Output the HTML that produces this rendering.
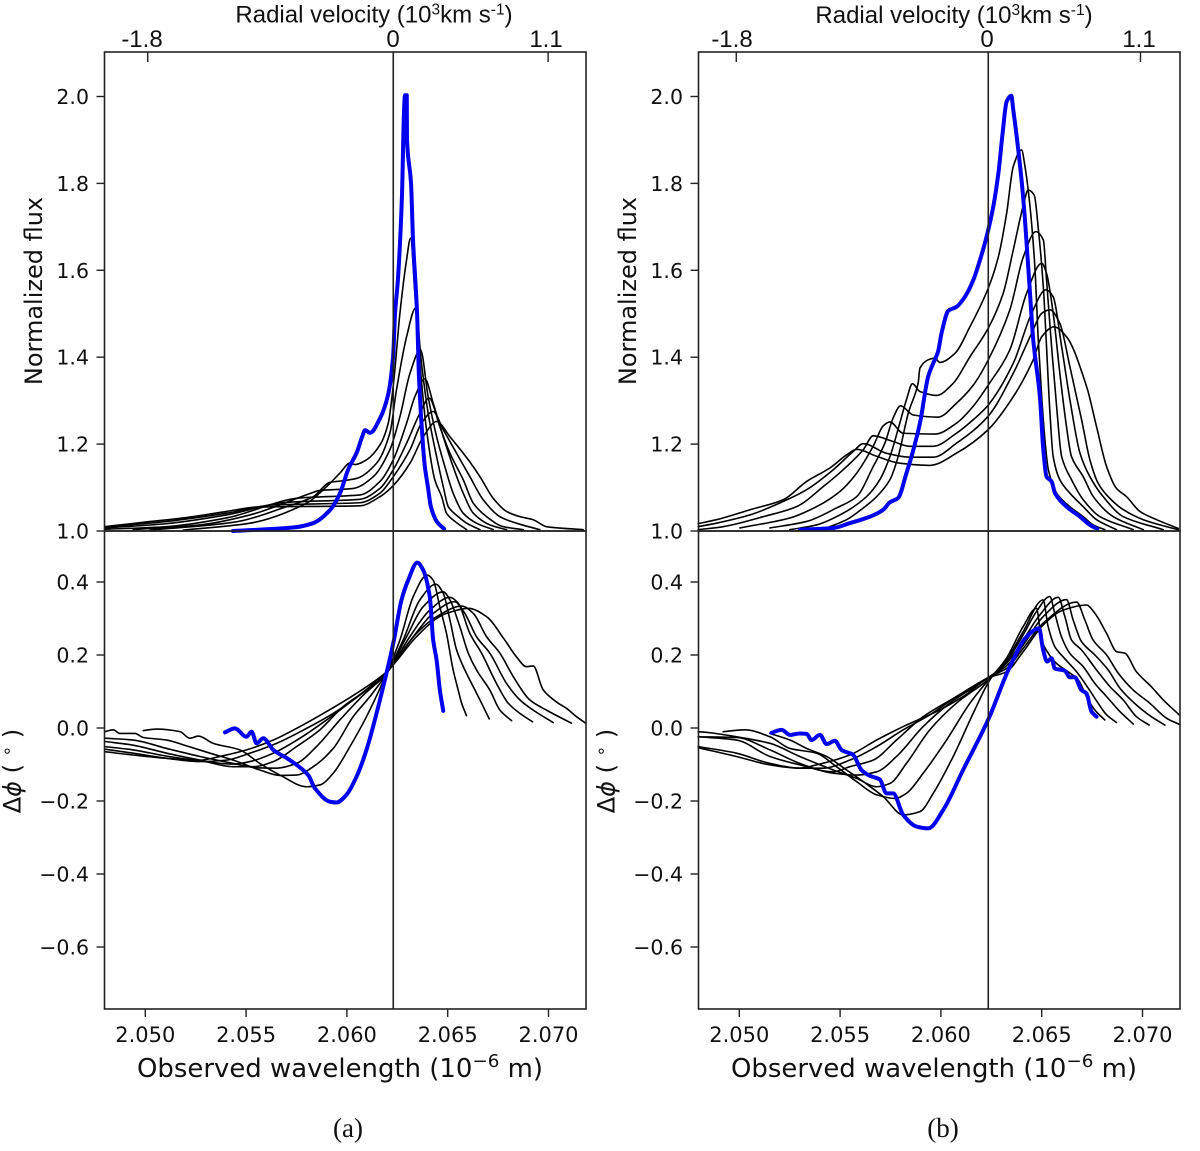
<!DOCTYPE html>
<html lang="en">
<head>
<meta charset="utf-8">
<title>Normalized flux and differential phase panels</title>
<style>
html,body{margin:0;padding:0;background:#fff;}
#chart{display:block;}
text{fill:#111;}
.dj{font-family:"DejaVu Sans",sans-serif;}
.lib{font-family:"Liberation Sans",sans-serif;}
.ser{font-family:"Liberation Serif",serif;}
</style>
</head>
<body>
<svg id="chart" xmlns="http://www.w3.org/2000/svg" width="1200" height="1151" viewBox="0 0 1200 1151"></svg>
<script>
// Wavelengths in nm (axis prints 10^-6 m); flux normalized; phase in degrees.
const waveTicks=[2050,2055,2060,2065,2070];
const waveTickLabels=["2.050","2.055","2.060","2.065","2.070"];
const fluxTicks=[1.0,1.2,1.4,1.6,1.8,2.0];
const fluxTickLabels=["1.0","1.2","1.4","1.6","1.8","2.0"];
const phaseTicks=[0.4,0.2,0.0,-0.2,-0.4,-0.6];
const phaseTickLabels=["0.4","0.2","0.0","\u22120.2","\u22120.4","\u22120.6"];
const velocityLabels=["-1.8","0","1.1"];
const velocityTickWaveA=[2050.12,2062.3,2069.98];
const velocityTickWaveB=[2049.85,2062.35,2069.9];
const systemicWaveA=2062.3;
const systemicWaveB=2062.35;

const fluxABlue=[[2054.35,1.000],[2057.33,1.008],[2058.32,1.018],[2059.16,1.048],[2059.66,1.087],[2060.05,1.140],[2060.50,1.182],[2060.75,1.216],[2060.90,1.232],[2061.15,1.226],[2061.65,1.260],[2062.04,1.313],[2062.29,1.400],[2062.39,1.502],[2062.53,1.578],[2062.73,1.769],[2062.83,1.962],[2062.88,2.003],[2062.97,2.003],[2062.98,1.900],[2063.18,1.801],[2063.28,1.670],[2063.48,1.502],[2063.58,1.348],[2063.78,1.193],[2063.87,1.147],[2064.02,1.101],[2064.17,1.055],[2064.47,1.021],[2064.82,1.005]];
const fluxA1=[[2051.88,1.002],[2055.19,1.018],[2058.0,1.064],[2058.99,1.102],[2059.65,1.133],[2060.15,1.156],[2060.40,1.153],[2060.98,1.164],[2061.64,1.198],[2062.05,1.248],[2062.33,1.348],[2062.63,1.501],[2062.96,1.624],[2063.16,1.674],[2063.37,1.547],[2063.62,1.386],[2063.95,1.233],[2064.36,1.118],[2064.70,1.079],[2064.94,1.041],[2065.36,1.022],[2065.94,1.003]];
const fluxA2=[[2050.23,1.002],[2054.36,1.020],[2057.01,1.056],[2058.33,1.079],[2059.16,1.112],[2059.49,1.114],[2060.48,1.121],[2061.47,1.156],[2062.13,1.225],[2062.46,1.325],[2062.96,1.447],[2063.41,1.513],[2063.70,1.386],[2064.03,1.271],[2064.45,1.171],[2064.78,1.102],[2065.03,1.056],[2065.52,1.033],[2065.94,1.018],[2066.6,1.003]];
const fluxA3=[[2049.40,1.003],[2052.71,1.014],[2055.19,1.037],[2058.33,1.089],[2058.6,1.093],[2060.31,1.098],[2061.31,1.125],[2062.13,1.187],[2062.63,1.263],[2063.13,1.363],[2063.65,1.417],[2064.03,1.309],[2064.45,1.217],[2064.86,1.148],[2065.27,1.087],[2065.77,1.041],[2066.43,1.018],[2067.26,1.003]];
const fluxA4=[[2048.0,1.004],[2051.06,1.010],[2054.03,1.030],[2057.67,1.076],[2060.65,1.083],[2061.64,1.114],[2062.30,1.164],[2062.96,1.248],[2063.37,1.309],[2063.87,1.350],[2064.28,1.294],[2064.78,1.217],[2065.27,1.148],[2065.77,1.087],[2066.27,1.041],[2067.09,1.014],[2067.92,1.003]];
const fluxA5=[[2048.0,1.007],[2051.06,1.017],[2054.03,1.037],[2057.01,1.066],[2060.65,1.073],[2061.64,1.098],[2062.30,1.141],[2062.96,1.202],[2063.62,1.271],[2064.08,1.306],[2064.61,1.240],[2065.11,1.179],[2065.77,1.118],[2066.27,1.064],[2066.93,1.033],[2067.75,1.010],[2068.75,1.003]];
const fluxA6=[[2048.0,1.009],[2051.06,1.022],[2054.03,1.041],[2056.35,1.060],[2060.65,1.065],[2061.64,1.087],[2062.30,1.125],[2063.13,1.187],[2063.70,1.248],[2064.28,1.275],[2064.78,1.233],[2065.44,1.179],[2066.10,1.125],[2066.76,1.072],[2067.59,1.033],[2068.41,1.018],[2069.57,1.003]];
const fluxA7=[[2048.0,1.010],[2049.90,1.020],[2051.88,1.030],[2054.03,1.045],[2055.52,1.055],[2060.65,1.058],[2061.64,1.079],[2062.33,1.106],[2063.13,1.156],[2063.79,1.217],[2064.45,1.252],[2065.11,1.217],[2066.02,1.164],[2066.60,1.125],[2067.26,1.075],[2067.92,1.045],[2068.58,1.033],[2069.24,1.026],[2069.90,1.010],[2071.72,1.003]];

const phaseABlue=[[2053.95,-0.012],[2054.44,-0.001],[2055.02,-0.024],[2055.27,-0.010],[2055.52,-0.042],[2055.85,-0.028],[2056.35,-0.060],[2057.17,-0.088],[2058.08,-0.129],[2058.41,-0.165],[2059.16,-0.202],[2059.49,-0.204],[2059.98,-0.183],[2060.48,-0.133],[2060.97,-0.060],[2061.80,0.113],[2062.30,0.232],[2062.71,0.351],[2063.04,0.405],[2063.49,0.453],[2063.78,0.433],[2064.11,0.360],[2064.28,0.241],[2064.45,0.186],[2064.61,0.104],[2064.78,0.047]];
const phaseA1=[[2049.90,-0.007],[2050.56,-0.003],[2051.72,-0.010],[2052.21,-0.028],[2052.63,-0.022],[2053.37,-0.042],[2054.69,-0.060],[2055.68,-0.097],[2056.68,-0.129],[2058.00,-0.161],[2058.66,-0.156],[2059.32,-0.124],[2060.15,-0.051],[2060.97,0.031],[2061.97,0.150],[2062.63,0.241],[2063.29,0.360],[2063.98,0.419],[2064.28,0.405],[2064.61,0.332],[2064.94,0.259],[2065.27,0.159],[2065.52,0.104],[2065.69,0.068],[2065.93,0.034]];
const phaseA2=[[2048.0,-0.010],[2048.41,-0.005],[2048.74,-0.015],[2049.49,-0.015],[2049.90,-0.026],[2051.06,-0.033],[2052.05,-0.049],[2053.21,-0.069],[2054.36,-0.088],[2055.68,-0.115],[2056.68,-0.130],[2057.50,-0.129],[2058.33,-0.106],[2059.32,-0.056],[2060.31,0.031],[2061.14,0.086],[2061.97,0.150],[2062.79,0.241],[2063.62,0.351],[2064.41,0.394],[2064.78,0.369],[2065.11,0.296],[2065.44,0.214],[2065.85,0.159],[2066.27,0.113],[2066.68,0.068],[2067.06,0.025]];
const phaseA3=[[2048.0,-0.028],[2049.40,-0.033],[2051.06,-0.056],[2052.71,-0.078],[2054.36,-0.097],[2055.52,-0.109],[2056.51,-0.110],[2057.50,-0.097],[2058.49,-0.051],[2059.65,0.022],[2060.81,0.090],[2061.97,0.150],[2062.96,0.250],[2063.78,0.332],[2064.78,0.373],[2065.11,0.351],[2065.60,0.278],[2066.02,0.205],[2066.43,0.159],[2067.09,0.104],[2067.59,0.049],[2068.17,0.020]];
const phaseA4=[[2048.0,-0.037],[2049.40,-0.047],[2051.06,-0.069],[2052.71,-0.088],[2054.36,-0.106],[2055.35,-0.106],[2056.35,-0.092],[2057.50,-0.051],[2058.66,-0.005],[2059.82,0.059],[2060.97,0.104],[2061.97,0.150],[2063.12,0.250],[2064.11,0.323],[2065.11,0.358],[2065.52,0.342],[2066.10,0.259],[2066.68,0.205],[2067.42,0.122],[2068.0,0.068],[2068.58,0.040],[2069.21,0.017]];
const phaseA5=[[2048.0,-0.051],[2049.40,-0.060],[2051.06,-0.077],[2052.71,-0.090],[2054.36,-0.099],[2055.19,-0.092],[2056.35,-0.069],[2057.67,-0.028],[2058.99,0.022],[2060.31,0.077],[2061.97,0.154],[2063.29,0.250],[2064.28,0.314],[2065.35,0.346],[2065.85,0.314],[2066.43,0.250],[2067.09,0.205],[2067.92,0.122],[2068.58,0.077],[2069.24,0.049],[2070.23,0.015]];
const phaseA6=[[2048.0,-0.058],[2049.40,-0.069],[2051.06,-0.083],[2052.71,-0.092],[2054.03,-0.088],[2055.19,-0.069],[2056.51,-0.042],[2058.0,-0.001],[2059.32,0.040],[2060.64,0.090],[2061.97,0.154],[2063.45,0.259],[2064.45,0.305],[2065.69,0.334],[2066.27,0.314],[2066.93,0.250],[2067.59,0.205],[2068.25,0.141],[2069.07,0.077],[2069.90,0.049],[2071.14,0.013]];
const phaseA7=[[2048.0,-0.065],[2049.40,-0.074],[2051.06,-0.083],[2052.71,-0.088],[2053.70,-0.078],[2055.02,-0.060],[2056.35,-0.033],[2057.67,0.004],[2058.99,0.045],[2060.48,0.095],[2061.97,0.154],[2063.45,0.250],[2064.45,0.300],[2064.94,0.314],[2066.02,0.328],[2066.93,0.305],[2067.83,0.241],[2068.41,0.195],[2068.91,0.168],[2069.24,0.170],[2069.74,0.104],[2070.48,0.068],[2070.89,0.054],[2071.39,0.031],[2071.85,0.013]];

const fluxBBlue=[[2053.0,1.003],[2054.66,1.007],[2055.48,1.018],[2056.48,1.033],[2057.14,1.049],[2057.47,1.066],[2057.88,1.076],[2058.29,1.133],[2058.54,1.171],[2058.96,1.248],[2059.37,1.356],[2059.62,1.386],[2059.86,1.413],[2060.03,1.455],[2060.37,1.507],[2060.78,1.516],[2061.19,1.539],[2061.61,1.578],[2061.94,1.624],[2062.27,1.678],[2062.60,1.747],[2062.85,1.823],[2063.06,1.915],[2063.26,1.988],[2063.49,2.002],[2063.59,1.969],[2063.76,1.908],[2064.0,1.808],[2064.17,1.716],[2064.42,1.547],[2064.58,1.440],[2064.91,1.309],[2065.08,1.187],[2065.24,1.125],[2065.49,1.114],[2065.66,1.087],[2066.23,1.056],[2066.90,1.033],[2067.39,1.014],[2067.76,1.005]];
const fluxB1=[[2054.33,1.007],[2055.32,1.026],[2056.15,1.053],[2056.81,1.079],[2057.47,1.118],[2057.88,1.171],[2058.38,1.271],[2058.87,1.340],[2058.96,1.375],[2059.37,1.394],[2059.70,1.398],[2059.95,1.388],[2060.70,1.409],[2061.44,1.470],[2062.35,1.559],[2062.85,1.631],[2063.26,1.731],[2063.59,1.839],[2064.0,1.877],[2064.17,1.839],[2064.42,1.747],[2064.66,1.608],[2064.83,1.440],[2065.0,1.309],[2065.16,1.210],[2065.33,1.141],[2065.74,1.087],[2066.40,1.056],[2067.06,1.033],[2067.56,1.014],[2068.14,1.003]];
const fluxB2=[[2052.51,1.003],[2053.83,1.014],[2055.15,1.041],[2056.31,1.079],[2056.97,1.118],[2057.47,1.171],[2057.96,1.248],[2058.29,1.302],[2058.59,1.339],[2058.96,1.321],[2059.78,1.312],[2060.61,1.340],[2061.44,1.401],[2062.35,1.467],[2063.09,1.547],[2063.59,1.647],[2064.09,1.750],[2064.33,1.785],[2064.63,1.773],[2064.83,1.697],[2065.08,1.562],[2065.24,1.424],[2065.41,1.271],[2065.57,1.171],[2065.90,1.118],[2066.40,1.087],[2067.06,1.056],[2067.72,1.026],[2068.71,1.003]];
const fluxB3=[[2051.52,1.007],[2053.34,1.022],[2054.82,1.053],[2055.82,1.079],[2056.64,1.148],[2057.22,1.202],[2057.63,1.260],[2058.0,1.288],[2058.63,1.267],[2059.86,1.262],[2060.77,1.294],[2061.61,1.336],[2062.35,1.394],[2063.42,1.509],[2064.09,1.631],[2064.71,1.689],[2065.08,1.670],[2065.24,1.578],[2065.49,1.424],[2065.74,1.286],[2065.99,1.171],[2066.48,1.118],[2067.06,1.072],[2067.89,1.033],[2069.54,1.003]];
const fluxB4=[[2050.03,1.007],[2052.51,1.030],[2053.83,1.056],[2054.99,1.091],[2055.82,1.133],[2056.64,1.195],[2057.14,1.242],[2057.47,1.251],[2058.13,1.225],[2059.70,1.223],[2060.77,1.248],[2061.60,1.287],[2062.35,1.336],[2063.42,1.417],[2064.25,1.547],[2065.0,1.616],[2065.24,1.593],[2065.57,1.501],[2065.90,1.363],[2066.23,1.240],[2066.48,1.171],[2067.06,1.125],[2067.56,1.079],[2068.55,1.033],[2070.04,1.003]];
const fluxB5=[[2047.96,1.003],[2049.2,1.010],[2051.19,1.033],[2052.84,1.056],[2054.16,1.102],[2055.32,1.148],[2056.15,1.187],[2056.64,1.219],[2057.63,1.206],[2058.46,1.195],[2059.62,1.195],[2060.77,1.225],[2061.60,1.256],[2062.35,1.290],[2063.59,1.386],[2064.5,1.501],[2065.21,1.555],[2065.57,1.539],[2065.99,1.424],[2066.40,1.302],[2066.90,1.179],[2067.39,1.125],[2068.05,1.079],[2069.05,1.033],[2071.03,1.003]];
const fluxB6=[[2047.96,1.010],[2048.87,1.018],[2050.53,1.037],[2052.18,1.068],[2053.34,1.095],[2054.66,1.141],[2055.65,1.183],[2056.15,1.201],[2057.30,1.179],[2058.46,1.170],[2059.62,1.170],[2060.77,1.202],[2062.34,1.264],[2063.59,1.363],[2064.5,1.455],[2065.0,1.501],[2065.41,1.509],[2065.90,1.478],[2066.40,1.378],[2066.98,1.256],[2067.39,1.164],[2067.80,1.110],[2068.30,1.079],[2069.05,1.049],[2070.04,1.026],[2071.19,1.010],[2071.77,1.003]];
const fluxB7=[[2047.96,1.017],[2048.87,1.026],[2050.53,1.049],[2052.18,1.072],[2053.34,1.114],[2054.49,1.145],[2055.32,1.175],[2055.82,1.188],[2056.81,1.172],[2057.96,1.156],[2059.45,1.151],[2060.77,1.179],[2062.34,1.233],[2063.59,1.309],[2064.58,1.394],[2065.0,1.447],[2065.61,1.470],[2066.23,1.447],[2067.23,1.332],[2067.72,1.240],[2068.22,1.148],[2068.71,1.098],[2069.21,1.079],[2069.87,1.045],[2070.70,1.026],[2071.77,1.006]];

const phaseBBlue=[[2051.60,-0.013],[2052.10,-0.005],[2052.51,-0.019],[2053.0,-0.015],[2053.34,-0.016],[2053.58,-0.033],[2054.0,-0.019],[2054.33,-0.044],[2054.74,-0.035],[2055.07,-0.060],[2055.65,-0.074],[2056.06,-0.115],[2056.48,-0.131],[2056.97,-0.141],[2057.30,-0.179],[2057.63,-0.179],[2058.13,-0.238],[2058.79,-0.270],[2059.37,-0.275],[2060.11,-0.225],[2061.10,-0.115],[2062.34,0.022],[2063.42,0.168],[2064.25,0.250],[2064.87,0.273],[2065.07,0.214],[2065.27,0.182],[2065.49,0.191],[2065.65,0.163],[2066.15,0.157],[2066.39,0.139],[2066.64,0.139],[2066.97,0.104],[2067.22,0.095],[2067.47,0.045],[2067.72,0.031]];
const phaseB1=[[2051.52,-0.015],[2052.51,-0.033],[2053.34,-0.056],[2054.33,-0.078],[2055.32,-0.115],[2056.15,-0.147],[2057.14,-0.188],[2058.13,-0.238],[2058.96,-0.229],[2059.62,-0.179],[2060.61,-0.078],[2061.60,0.040],[2062.43,0.132],[2063.25,0.191],[2064.08,0.278],[2064.74,0.328],[2064.99,0.241],[2065.32,0.205],[2065.73,0.177],[2066.31,0.154],[2066.81,0.132],[2067.22,0.086],[2067.64,0.049],[2068.13,0.022]];
const phaseB2=[[2049.20,-0.010],[2050.28,-0.005],[2051.52,-0.024],[2052.51,-0.056],[2053.83,-0.069],[2054.82,-0.106],[2055.82,-0.147],[2056.81,-0.183],[2057.72,-0.193],[2058.29,-0.179],[2059.12,-0.124],[2060.28,-0.033],[2061.44,0.068],[2062.43,0.136],[2063.25,0.186],[2064.08,0.264],[2065.07,0.351],[2065.32,0.278],[2065.65,0.223],[2066.06,0.195],[2066.73,0.154],[2067.31,0.109],[2067.80,0.068],[2068.22,0.036],[2068.71,0.015]];
const phaseB3=[[2047.96,-0.010],[2048.54,-0.013],[2049.86,-0.024],[2051.52,-0.042],[2053.0,-0.078],[2054.66,-0.115],[2055.82,-0.138],[2056.81,-0.161],[2057.47,-0.152],[2058.29,-0.097],[2059.45,-0.005],[2060.77,0.068],[2062.43,0.136],[2063.25,0.182],[2064.08,0.255],[2064.74,0.319],[2065.40,0.360],[2065.65,0.314],[2065.98,0.250],[2066.39,0.205],[2067.06,0.168],[2067.64,0.122],[2068.22,0.086],[2068.88,0.045],[2069.54,0.011]];
const phaseB4=[[2047.96,-0.024],[2049.86,-0.026],[2051.52,-0.060],[2053.0,-0.097],[2054.66,-0.124],[2055.82,-0.129],[2056.81,-0.120],[2057.80,-0.078],[2059.12,0.004],[2060.44,0.068],[2062.43,0.141],[2063.25,0.177],[2064.08,0.241],[2064.91,0.310],[2065.82,0.358],[2066.15,0.305],[2066.48,0.241],[2066.97,0.214],[2067.72,0.159],[2068.39,0.113],[2069.04,0.077],[2069.70,0.031],[2070.33,0.008]];
const phaseB5=[[2047.96,-0.024],[2049.86,-0.033],[2051.52,-0.078],[2053.0,-0.101],[2054.66,-0.120],[2055.48,-0.106],[2056.64,-0.088],[2057.80,-0.033],[2059.12,0.031],[2060.77,0.086],[2062.43,0.141],[2063.25,0.170],[2064.08,0.227],[2065.07,0.305],[2066.23,0.352],[2066.56,0.296],[2066.97,0.237],[2067.64,0.200],[2068.30,0.159],[2068.88,0.109],[2069.70,0.063],[2070.44,0.031],[2071.11,0.008]];
const phaseB6=[[2047.96,-0.051],[2049.86,-0.069],[2051.52,-0.097],[2053.0,-0.110],[2054.16,-0.110],[2055.48,-0.088],[2056.81,-0.051],[2058.13,-0.005],[2059.45,0.036],[2060.77,0.086],[2062.43,0.141],[2063.25,0.163],[2064.08,0.218],[2065.07,0.287],[2066.73,0.345],[2067.14,0.296],[2067.55,0.241],[2068.22,0.200],[2068.80,0.150],[2069.54,0.104],[2070.36,0.068],[2071.19,0.027],[2071.82,0.010]];
const phaseB7=[[2047.96,-0.054],[2049.86,-0.078],[2051.52,-0.101],[2053.0,-0.110],[2053.83,-0.101],[2055.48,-0.074],[2056.81,-0.033],[2058.13,0.004],[2059.78,0.045],[2061.10,0.086],[2062.43,0.139],[2063.25,0.154],[2064.08,0.209],[2065.07,0.282],[2066.06,0.323],[2067.22,0.337],[2067.64,0.314],[2068.22,0.259],[2068.72,0.209],[2069.12,0.205],[2069.70,0.154],[2070.44,0.113],[2071.03,0.077],[2071.82,0.036]];

const svg=document.getElementById('chart');
const NS='http://www.w3.org/2000/svg';
const plotTop=52,plotMid=531,plotBottom=1009,plotWidth=481.5;
const panelLeftA=104.5,panelLeftB=698.5;
const wave2050A=145.3,wave2050B=739.3,pxPerNm=20.16;

function xA(w){return wave2050A+(w-2050)*pxPerNm;}
function xB(w){return wave2050B+(w-2050)*pxPerNm;}
function yFlux(f){return plotMid-(f-1)*434.5;}
function yPhase(p){return 728-p*365;}

function make(tag,attrs,parent){
  const el=document.createElementNS(NS,tag);
  for(const k in attrs)el.setAttribute(k,attrs[k]);
  (parent||svg).appendChild(el);
  return el;
}
function tickLine(x1,y1,x2,y2,name,parent){
  const l=make('line',{x1:x1,y1:y1,x2:x2,y2:y2,stroke:'#222','stroke-width':1.4},parent);
  
  
  return l;
}
function label(txt,x,y,anchor,cls,size,name,parent){
  const t=make('text',{x:x,y:y,'text-anchor':anchor,'class':cls,'font-size':size},parent);
  t.textContent=txt;
  
  
  return t;
}
// Monotone cubic through the read points: smooth, no overshoot at the peaks.
function smoothPath(px){
  const n=px.length,m=[],d=[];
  for(let i=0;i<n-1;i++){
    const dx=Math.max(px[i+1][0]-px[i][0],0.01);
    d.push((px[i+1][1]-px[i][1])/dx);
  }
  m.push(d[0]);
  for(let i=1;i<n-1;i++){
    m.push(d[i-1]*d[i]<=0?0:2*d[i-1]*d[i]/(d[i-1]+d[i]));
  }
  m.push(d[n-2]);
  let s='M'+px[0][0].toFixed(2)+' '+px[0][1].toFixed(2);
  for(let i=0;i<n-1;i++){
    const h=(px[i+1][0]-px[i][0])/3;
    s+='C'+(px[i][0]+h).toFixed(2)+' '+(px[i][1]+m[i]*h).toFixed(2)+' '+(px[i+1][0]-h).toFixed(2)+' '+(px[i+1][1]-m[i+1]*h).toFixed(2)+' '+px[i+1][0].toFixed(2)+' '+px[i+1][1].toFixed(2);
  }
  return s;
}
function curve(points,xf,yf,color,width,name,parent){
  const d=smoothPath(points.map(p=>[xf(p[0]),yf(p[1])]));
  const c=make('path',{d:d,fill:'none',stroke:color,'stroke-width':width,'stroke-linejoin':'round','stroke-linecap':'round'},parent);
  
  
  return c;
}

function drawPanel(id,left,xf,fluxBlack,fluxBlue,phaseBlack,phaseBlue,velWave,systemic,captionX,caption,topTitleX,topLabelX,titleBase){
  const g=make('g',{});
  
  

  fluxBlack.forEach((s,i)=>curve(s,xf,yFlux,'#000',1.6,'flux-curve-'+id+'-'+(i+1),g));
  curve(fluxBlue,xf,yFlux,'#0000ee',4,'flux-observed-'+id,g);
  phaseBlack.forEach((s,i)=>curve(s,xf,yPhase,'#000',1.6,'phase-curve-'+id+'-'+(i+1),g));
  curve(phaseBlue,xf,yPhase,'#0000ee',4,'phase-observed-'+id,g);

  const sx=xf(systemic);
  tickLine(sx,plotTop,sx,plotBottom,'systemic-line-'+id,g).setAttribute('stroke-width',1.6);

  const frameTop=make('rect',{x:left,y:plotTop,width:plotWidth,height:plotMid-plotTop,fill:'none',stroke:'#222','stroke-width':1.6},g);
  
  
  const frameBottom=make('rect',{x:left,y:plotMid,width:plotWidth,height:plotBottom-plotMid,fill:'none',stroke:'#222','stroke-width':1.6},g);
  
  

  fluxTicks.forEach((v,i)=>{
    const y=yFlux(v);
    tickLine(left-8,y,left,y,'flux-tick-'+id,g);
    label(fluxTickLabels[i],left-15.5,y+7.5,'end','dj',20.5,'flux-tick-label-'+id,g);
  });
  phaseTicks.forEach((v,i)=>{
    const y=yPhase(v);
    tickLine(left-8,y,left,y,'phase-tick-'+id,g);
    label(phaseTickLabels[i],left-15.5,y+7.5,'end','dj',20.5,'phase-tick-label-'+id,g);
  });

  waveTicks.forEach((v,i)=>{
    const x=xf(v);
    tickLine(x,plotBottom,x,plotBottom+8,'wavelength-tick-'+id,g);
    const t=label(waveTickLabels[i],x,plotBottom+33,'middle','dj',21.5,'wavelength-tick-label-'+id,g);
    t.setAttribute('textLength',60);
    t.setAttribute('lengthAdjust','spacingAndGlyphs');
  });

  velWave.forEach((v,i)=>{
    const x=xf(v);
    if(i!==1)tickLine(x,plotTop,x,plotTop+10,'velocity-tick-'+id,g);
    label(velocityLabels[i],topLabelX[i],47,'middle','lib',24,'velocity-tick-label-'+id,g);
  });

  const top=make('text',{x:topTitleX,y:titleBase,'text-anchor':'middle','class':'lib','font-size':24},g);
  
  
  top.innerHTML='Radial velocity (10<tspan dy="-8" font-size="15.5">3</tspan><tspan dy="8">km s</tspan><tspan dy="-8" font-size="15.5">-1</tspan><tspan dy="8">)</tspan>';

  const xl=make('text',{x:left+235.5,y:1077,'text-anchor':'middle','class':'dj','font-size':25.5,textLength:406,lengthAdjust:'spacingAndGlyphs'},g);
  
  
  xl.innerHTML='Observed wavelength (10<tspan dy="-10" font-size="18">\u22126</tspan><tspan dy="10"> m)</tspan>';

  const yl=make('text',{x:0,y:0,'text-anchor':'middle','class':'dj','font-size':24,transform:'translate('+(left-62.5)+',291) rotate(-90)'},g);
  yl.textContent='Normalized flux';
  
  

  const pl=make('text',{x:0,y:0,'text-anchor':'middle','class':'dj','font-size':24,transform:'translate('+(left-84)+',771) rotate(-90)'},g);
  
  
  pl.innerHTML='\u0394<tspan font-style="italic">\u03d5</tspan> ( <tspan dy="-8" font-size="17">\u2218</tspan><tspan dy="8"> )</tspan>';

  label(caption,captionX,1137,'middle','ser',27,'panel-caption-'+id,g);
}

drawPanel('a',panelLeftA,xA,[fluxA1,fluxA2,fluxA3,fluxA4,fluxA5,fluxA6,fluxA7],fluxABlue,[phaseA1,phaseA2,phaseA3,phaseA4,phaseA5,phaseA6,phaseA7],phaseABlue,velocityTickWaveA,systemicWaveA,348,'(a)',374,[142,393,546],22.5);
drawPanel('b',panelLeftB,xB,[fluxB1,fluxB2,fluxB3,fluxB4,fluxB5,fluxB6,fluxB7],fluxBBlue,[phaseB1,phaseB2,phaseB3,phaseB4,phaseB5,phaseB6,phaseB7],phaseBBlue,velocityTickWaveB,systemicWaveB,943,'(b)',954,[732,987,1139],23);
</script>
</body>
</html>
